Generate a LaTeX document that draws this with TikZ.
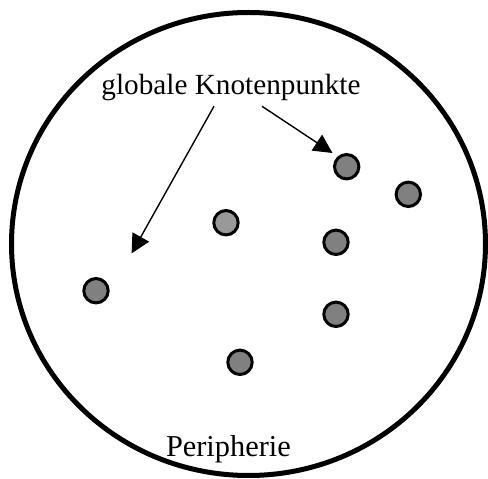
\documentclass[tikz,border=0pt]{standalone}
\usepackage{fontspec}
\setmainfont{Liberation Serif}
\usepackage{tikz}
\usetikzlibrary{calc, arrows.meta}
\usepackage{tkz-euclide}

\begin{document}
\begin{tikzpicture}[
        punkt/.style={line width=0.075cm, fill=gray},
        pfeil/.style={line width=0.035cm, -{Triangle[length=0.47cm, width=0.47cm]}}]
                \useasboundingbox (0,0) rectangle (12.2,11.975);
                \draw[line width=0.125cm] (6.2125,5.875) ellipse [x radius=5.925cm, y radius=5.7875cm];
                \tkzDefPoints{8.667/7.807/A, 10.208/7.117/B, 5.65/6.407/C, 8.4/5.917/D, 2.4/4.707/E, 8.4/4.117/F, 6.0/2.917/G}
                \tkzDefPoints{3.29/5.64/Z, 8.3125/8.15/Y}
                \foreach \p in {A,B,D,E,F,G} \draw[punkt] (\p) circle (0.305);
                \draw[punkt, fill=gray!80] (C) circle (0.305);
                \node[anchor=base, font=\fontsize{20.8}{25}\selectfont] (knoten) at (5.775,9.6) {globale Knotenpunkte};
                \node[anchor=base, font=\fontsize{21.6}{25}\selectfont] (peri) at (5.71,0.5575) {Peripherie};
                \draw[pfeil] ([xshift=-0.425cm]knoten.south) -- (Z);
                \draw[pfeil] ([xshift=0.775cm]knoten.south) -- (Y);
            \end{tikzpicture}
\end{document}
